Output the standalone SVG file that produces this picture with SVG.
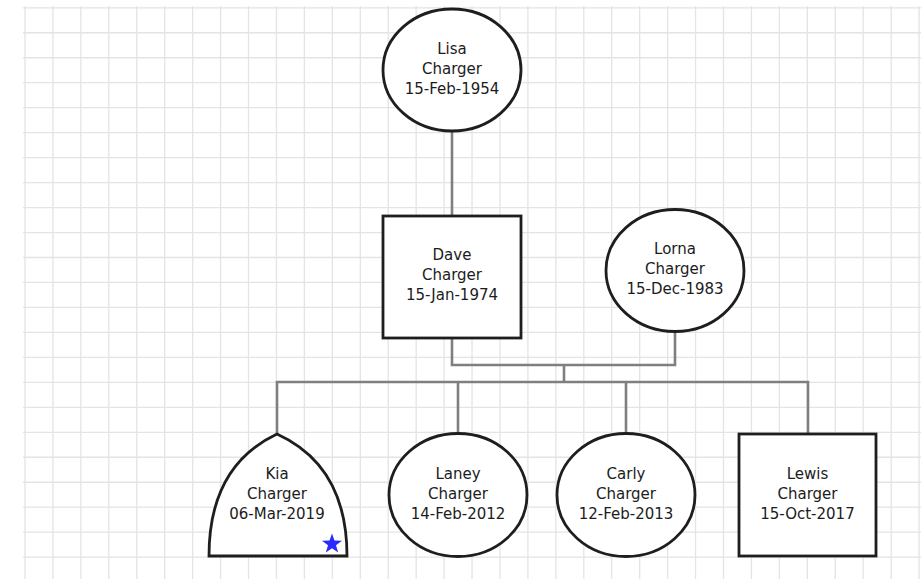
<svg xmlns="http://www.w3.org/2000/svg" width="921" height="579" viewBox="0 0 921 579">
<style>
.grid{fill:none;stroke:#e4e4e4;stroke-width:1.3}
.conn{fill:none;stroke:#7f7f7f;stroke-width:2.6}
.node{fill:#ffffff;stroke:#1e1e1e;stroke-width:2.8}
.lbl{font-family:"DejaVu Sans",sans-serif;font-size:15px;fill:#1c1c1c;text-anchor:middle}
</style>
<rect x="0" y="0" width="921" height="579" fill="#ffffff"/>
<g id="grid">
<path class="grid" d="M25,6V579M52.94,6V579M80.88,6V579M108.82,6V579M136.76,6V579M164.7,6V579M192.64,6V579M220.58,6V579M248.52,6V579M276.46,6V579M304.4,6V579M332.34,6V579M360.28,6V579M388.22,6V579M416.16,6V579M444.1,6V579M472.04,6V579M499.98,6V579M527.92,6V579M555.86,6V579M583.8,6V579M611.74,6V579M639.68,6V579M667.62,6V579M695.56,6V579M723.5,6V579M751.44,6V579M779.38,6V579M807.32,6V579M835.26,6V579M863.2,6V579M891.14,6V579M919.08,6V579"/>
<path class="grid" d="M23,7.8H921M23,32.77H921M23,57.74H921M23,82.71H921M23,107.68H921M23,132.65H921M23,157.62H921M23,182.59H921M23,207.56H921M23,232.53H921M23,257.5H921M23,282.47H921M23,307.44H921M23,332.41H921M23,357.38H921M23,382.35H921M23,407.32H921M23,432.29H921M23,457.26H921M23,482.23H921M23,507.2H921M23,532.17H921M23,557.14H921"/>
</g>
<g id="connectors">
<path class="conn" d="M452,131V216"/>
<path class="conn" d="M452,338V365H675V332"/>
<path class="conn" d="M564,365V382"/>
<path class="conn" d="M277,434V382H808V434"/>
<path class="conn" d="M458,382V433"/>
<path class="conn" d="M626,382V433"/>
</g>
<g id="lisa">
<ellipse class="node" cx="452" cy="70" rx="69" ry="61"/>
<text class="lbl" x="452" y="53.5">Lisa</text>
<text class="lbl" x="452" y="73.5">Charger</text>
<text class="lbl" x="452" y="93.5">15-Feb-1954</text>
</g>
<g id="dave">
<rect class="node" x="383" y="216" width="138" height="122"/>
<text class="lbl" x="452" y="259.5">Dave</text>
<text class="lbl" x="452" y="279.5">Charger</text>
<text class="lbl" x="452" y="299.5">15-Jan-1974</text>
</g>
<g id="lorna">
<ellipse class="node" cx="675" cy="270.5" rx="69" ry="61"/>
<text class="lbl" x="675" y="253.5">Lorna</text>
<text class="lbl" x="675" y="273.5">Charger</text>
<text class="lbl" x="675" y="293.5">15-Dec-1983</text>
</g>
<g id="kia">
<path class="node" d="M209,556Q209,466 277,434Q347,466 347,556Z"/>
<text class="lbl" x="277" y="478.5">Kia</text>
<text class="lbl" x="277" y="498.5">Charger</text>
<text class="lbl" x="277" y="518.5">06-Mar-2019</text>
<polygon fill="#2b2bff" points="332,533.5 334.47,540.6 341.99,540.76 335.99,545.3 338.17,552.49 332,548.2 325.83,552.49 328.01,545.3 322.01,540.76 329.53,540.6"/>
</g>
<g id="laney">
<ellipse class="node" cx="458" cy="495" rx="69" ry="61.5"/>
<text class="lbl" x="458" y="478.5">Laney</text>
<text class="lbl" x="458" y="498.5">Charger</text>
<text class="lbl" x="458" y="518.5">14-Feb-2012</text>
</g>
<g id="carly">
<ellipse class="node" cx="626" cy="495" rx="69" ry="61.5"/>
<text class="lbl" x="626" y="478.5">Carly</text>
<text class="lbl" x="626" y="498.5">Charger</text>
<text class="lbl" x="626" y="518.5">12-Feb-2013</text>
</g>
<g id="lewis">
<rect class="node" x="739" y="434" width="137" height="122"/>
<text class="lbl" x="807.5" y="478.5">Lewis</text>
<text class="lbl" x="807.5" y="498.5">Charger</text>
<text class="lbl" x="807.5" y="518.5">15-Oct-2017</text>
</g>
</svg>
